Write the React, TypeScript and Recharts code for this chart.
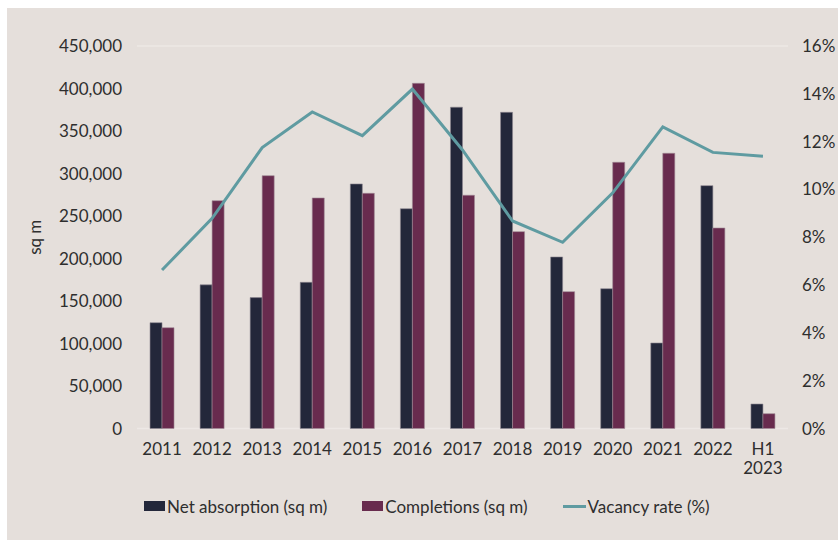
import React from "react"
import { ComposedChart, Bar, Line, XAxis, YAxis, CartesianGrid, Legend } from "recharts"

const years = ["2011", "2012", "2013", "2014", "2015", "2016", "2017", "2018", "2019", "2020", "2021", "2022", "H1 2023"]
const netAbsorption = [124500, 169000, 154000, 172000, 287700, 258600, 378000, 372000, 201800, 164500, 100600, 285700, 28800]
const completions = [118600, 268000, 297400, 271200, 276700, 406100, 274400, 231600, 161000, 313200, 323800, 235900, 17400]
const vacancyRate = [6.63, 8.79, 11.75, 13.24, 12.25, 14.2, 11.65, 8.68, 7.79, 9.86, 12.62, 11.55, 11.39]

const leftTicks = [0, 50000, 100000, 150000, 200000, 250000, 300000, 350000, 400000, 450000]
const rightTicks = [0, 2, 4, 6, 8, 10, 12, 14, 16]

const NAVY = "#23273a"
const PLUM = "#682b4e"
const TEAL = "#5f9ba1"
const TEXT = "#2e2e2e"
const FONT = "Lato, sans-serif"

const data = years.map((y, i) => ({
  year: y,
  net: netAbsorption[i],
  comp: completions[i],
  vac: vacancyRate[i],
}))

function YearTick(props: any) {
  const { x, y, payload } = props
  const lines = String(payload.value).split(" ")
  return (
    <text x={x} y={y} textAnchor="middle" fill={TEXT} fontSize={17} fontFamily={FONT}>
      {lines.map((l, i) => (
        <tspan key={i} x={x} dy={i === 0 ? "0.71em" : "1.15em"}>{l}</tspan>
      ))}
    </text>
  )
}

function LegendContent() {
  const items = [
    { label: "Net absorption (sq m)", color: NAVY, kind: "rect" },
    { label: "Completions (sq m)", color: PLUM, kind: "rect" },
    { label: "Vacancy rate (%)", color: TEAL, kind: "line" },
  ]
  return (
    <div style={{ display: "flex", alignItems: "center", height: 20, paddingLeft: 137, fontFamily: FONT, fontSize: 17, color: TEXT }}>
      {items.map((it) => (
        <div key={it.label} style={{ display: "flex", alignItems: "center", marginRight: 35 }}>
          {it.kind === "rect" ? (
            <span style={{ width: 21, height: 10, background: it.color, display: "inline-block", marginRight: 2 }} />
          ) : (
            <span style={{ width: 23, height: 3, background: it.color, display: "inline-block", marginRight: 2 }} />
          )}
          <span>{it.label}</span>
        </div>
      ))}
    </div>
  )
}

export default function App() {
  return (
    <div style={{ position: "relative", width: 838, height: 540, background: "#fff" }}>
      <style>{`html, body { margin: 0; overflow: hidden; }`}</style>
      <div style={{ position: "absolute", left: 7, top: 8, width: 831, height: 532, background: "#e5dfdb" }}>
        <ComposedChart
          width={831}
          height={532}
          data={data}
          margin={{ top: 38, right: 0, bottom: 24, left: 0 }}
          barCategoryGap="26%"
          barGap={0}
        >
          <CartesianGrid vertical={false} stroke="#ede8e5" strokeWidth={1.5} />
          <XAxis
            dataKey="year"
            axisLine={false}
            tickLine={false}
            tickSize={6}
            tickMargin={8}
            height={67.5}
            interval={0}
            tick={<YearTick />}
          />
          <YAxis
            yAxisId="left"
            width={130}
            domain={[0, 450000]}
            ticks={leftTicks}
            axisLine={false}
            tickLine={false}
            tickSize={8}
            tickMargin={7}
            tickFormatter={(v: number) => v.toLocaleString("en-US")}
            tick={{ fill: TEXT, fontSize: 17, fontFamily: FONT }}
            label={{ value: "sq m", angle: -90, position: "insideLeft", offset: 28, style: { fill: TEXT, fontSize: 17, fontFamily: FONT, textAnchor: "middle" } }}
          />
          <YAxis
            yAxisId="right"
            orientation="right"
            width={50}
            domain={[0, 16]}
            ticks={rightTicks}
            axisLine={false}
            tickLine={false}
            tickSize={8}
            tickMargin={6}
            tickFormatter={(v: number) => `${v}%`}
            tick={{ fill: TEXT, fontSize: 17, fontFamily: FONT }}
          />
          <Legend verticalAlign="bottom" align="left" content={<LegendContent />} wrapperStyle={{ left: 0, width: 831 }} />
          <Bar yAxisId="left" dataKey="net" name="Net absorption (sq m)" fill={NAVY} stroke="#8d8791" strokeWidth={0.6} isAnimationActive={false} />
          <Bar yAxisId="left" dataKey="comp" name="Completions (sq m)" fill={PLUM} stroke="#a08a96" strokeWidth={0.6} isAnimationActive={false} />
          <Line yAxisId="right" type="linear" dataKey="vac" name="Vacancy rate (%)" stroke={TEAL} strokeWidth={3} dot={false} isAnimationActive={false} />
        </ComposedChart>
      </div>
    </div>
  )
}
